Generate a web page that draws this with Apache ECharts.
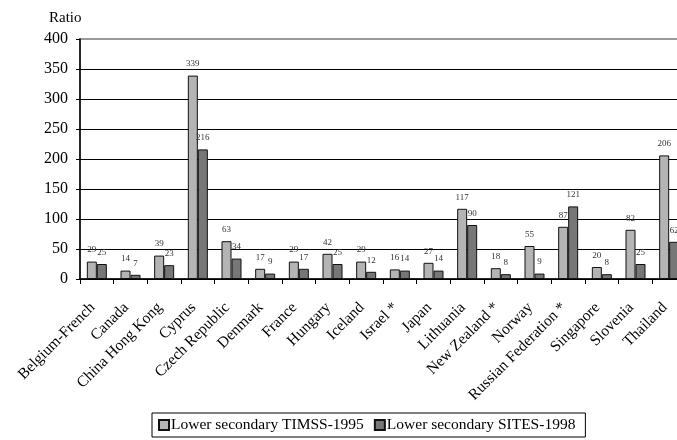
<!DOCTYPE html>
<html>
<head>
<meta charset="utf-8">
<script src="https://cdn.jsdelivr.net/npm/echarts@6/dist/echarts.min.js"></script>
<style>
  html, body { margin: 0; padding: 0; background: #fff; }
  #chart { width: 677px; height: 440px; }
</style>
</head>
<body>
<div id="chart"></div>
<script>
// Countries (x-axis categories)
const countries = [
  'Belgium-French', 'Canada', 'China Hong Kong', 'Cyprus', 'Czech Republic',
  'Denmark', 'France', 'Hungary', 'Iceland', 'Israel *', 'Japan', 'Lithuania',
  'New Zealand *', 'Norway', 'Russian Federation *', 'Singapore', 'Slovenia', 'Thailand'
];
// Student/computer ratios
const timss1995 = [29, 14, 39, 339, 63, 17, 29, 42, 29, 16, 27, 117, 18, 55, 87, 20, 82, 206];
const sites1998 = [25, 7, 23, 216, 34, 9, 17, 25, 12, 14, 14, 90, 8, 9, 121, 8, 25, 62];
const seriesNames = ['Lower secondary TIMSS-1995', 'Lower secondary SITES-1998'];
const yTicks = [0, 50, 100, 150, 200, 250, 300, 350, 400];

const serif = '"Liberation Serif", "Times New Roman", serif';
const chart = echarts.init(document.getElementById('chart'));

const labelStyle = {
  show: true, position: 'top', distance: 7,
  fontFamily: serif, fontSize: 9, color: '#333'
};

chart.setOption({
  animation: false,
  backgroundColor: '#fff',
  textStyle: { fontFamily: serif },
  title: {
    text: 'Ratio', left: 49, top: 11, padding: 0,
    textStyle: { fontFamily: serif, fontSize: 15, fontWeight: 'normal', color: '#000' }
  },
  legend: {
    data: seriesNames,
    bottom: 3, left: 152,
    itemWidth: 10, itemHeight: 10, itemGap: 10,
    padding: [4, 10, 4, 6],
    borderColor: '#000', borderWidth: 1, borderRadius: 0,
    icon: 'rect',
    textStyle: { fontFamily: serif, fontSize: 15.5, color: '#000', padding: [0, 0, 0, -3] }
  },
  grid: {
    left: 80, top: 39, width: 606, height: 240,
    outerBoundsMode: 'none',
    show: true, borderColor: '#9a9a9a', borderWidth: 2, backgroundColor: 'transparent'
  },
  xAxis: {
    type: 'category',
    data: countries,
    axisLine: { lineStyle: { color: '#000', width: 1.5 } },
    axisTick: { show: true, length: 5, lineStyle: { color: '#000' } },
    axisLabel: {
      interval: 0, rotate: 45, margin: 22, padding: [0, 6, 0, 0],
      fontFamily: serif, fontSize: 15.5, color: '#000'
    }
  },
  yAxis: {
    type: 'value',
    min: yTicks[0], max: yTicks[yTicks.length - 1], interval: 50,
    axisLine: { show: true, lineStyle: { color: '#000', width: 1.5 } },
    axisTick: { show: true, length: 4, lineStyle: { color: '#000' } },
    axisLabel: { fontFamily: serif, fontSize: 16, color: '#000', margin: 12 },
    splitLine: { show: true, showMaxLine: false, lineStyle: { color: '#000', width: 1 } }
  },
  series: [
    {
      name: seriesNames[0], type: 'bar', data: timss1995,
      barWidth: 10, barGap: '0%',
      itemStyle: { color: '#b4b4b4', borderColor: '#111', borderWidth: 1 },
      label: labelStyle
    },
    {
      name: seriesNames[1], type: 'bar', data: sites1998,
      barWidth: 10, barGap: '0%',
      itemStyle: { color: '#777777', borderColor: '#111', borderWidth: 1 },
      label: labelStyle
    }
  ]
});
</script>
</body>
</html>
